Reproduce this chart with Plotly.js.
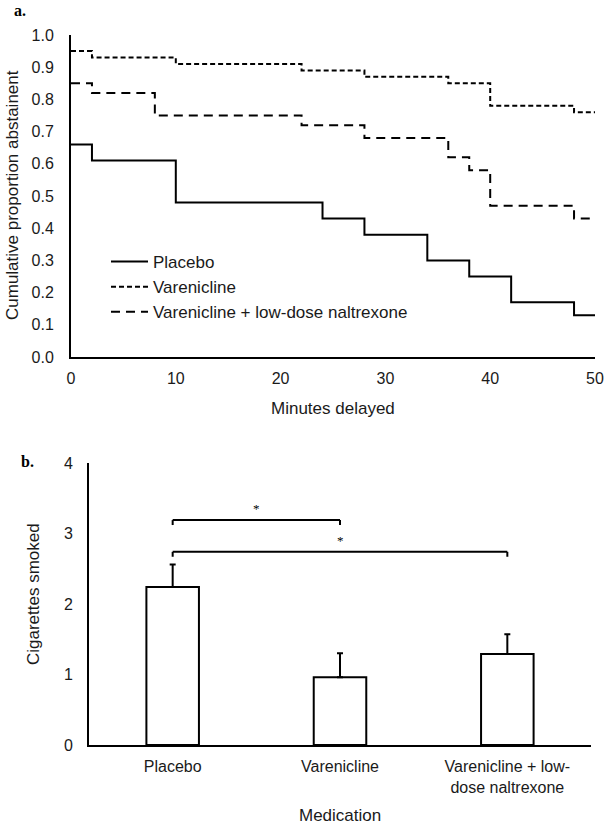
<!DOCTYPE html>
<html>
<head>
<meta charset="utf-8">
<script src="https://cdn.plot.ly/plotly-3.0.1.min.js"></script>
<style>
  body { margin: 0; background: #fff; }
  #chart { width: 609px; height: 826px; }
</style>
</head>
<body>
<div id="chart"></div>
<script>
// panel a - cumulative proportion abstinent by minutes delayed
const minutesPlacebo = [0, 2, 10, 24, 28, 34, 38, 42, 48, 50];
const abstPlacebo = [0.66, 0.61, 0.48, 0.43, 0.38, 0.30, 0.25, 0.17, 0.13, 0.13];
const minutesVar = [0, 2, 10, 22, 28, 36, 40, 48, 50];
const abstVar = [0.95, 0.93, 0.91, 0.89, 0.87, 0.85, 0.78, 0.76, 0.76];
const minutesCombo = [0, 2, 8, 22, 28, 36, 38, 40, 48, 50];
const abstCombo = [0.85, 0.82, 0.75, 0.72, 0.68, 0.62, 0.58, 0.47, 0.43, 0.43];

// panel b - cigarettes smoked by medication
const medications = ["Placebo", "Varenicline", "Varenicline + low-<br>dose naltrexone"];
const cigsMean = [2.24, 0.96, 1.29];
const cigsSE = [0.32, 0.34, 0.28];

// significance brackets: [from category, to category, height]
const brackets = [[0, 1, 3.19], [0, 2, 2.74]];

const W = 609, H = 826;
const px = v => v / W;          // pixel -> paper x
const py = v => 1 - v / H;      // pixel -> paper y

const textColor = "#1a1a1a";
const tickFont = { family: "Arial, Liberation Sans, sans-serif", size: 16, color: textColor };
const titleFont = { family: "Arial, Liberation Sans, sans-serif", size: 17, color: textColor };
const serifBold = { family: "Liberation Serif, Times New Roman, serif", size: 16, color: "#000" };

function stepTrace(x, y, name, dash) {
    return {
        x: x, y: y, name: name,
        type: "scatter", mode: "lines",
        line: { shape: "hv", color: "#000", width: 2, dash: dash },
        xaxis: "x", yaxis: "y"
    };
}

const data = [
    stepTrace(minutesPlacebo, abstPlacebo, "Placebo", "solid"),
    stepTrace(minutesVar, abstVar, "Varenicline", "5px,3px"),
    stepTrace(minutesCombo, abstCombo, "Varenicline + low-dose naltrexone", "9px,6px"),
    {
        x: medications, y: cigsMean,
        type: "bar", xaxis: "x2", yaxis: "y2", showlegend: false,
        marker: { color: "#fff", line: { color: "#000", width: 2 } },
        error_y: {
            type: "data", symmetric: false,
            array: cigsSE, arrayminus: cigsSE.map(() => 0),
            color: "#000", thickness: 2, width: 3
        }
    }
];

// brackets drawn as three line pieces each
const drop = 0.07;
const shapes = [];
brackets.forEach(([a, b, h]) => {
    const ln = { type: "line", xref: "x2", yref: "y2", line: { color: "#000", width: 2 } };
    shapes.push(Object.assign({}, ln, { x0: a, x1: b, y0: h, y1: h }));
    shapes.push(Object.assign({}, ln, { x0: a, x1: a, y0: h, y1: h - drop }));
    shapes.push(Object.assign({}, ln, { x0: b, x1: b, y0: h, y1: h - drop }));
});

function label(text, x, y, font, angle) {
    return {
        text: text, xref: "paper", yref: "paper", x: px(x), y: py(y),
        xanchor: "center", yanchor: "middle", textangle: angle || 0,
        showarrow: false, font: font
    };
}

const annotations = [
    label("<b>a.</b>", 20, 10, serifBold),
    label("<b>b.</b>", 27, 462, serifBold),
    label("Cumulative proportion abstainent", 12, 195, titleFont, -90),
    label("Minutes delayed", 333, 409, titleFont),
    label("Cigarettes smoked", 33, 594, titleFont, -90),
    label("Medication", 340, 815, titleFont)
];
brackets.forEach(([a, b, h]) => {
    annotations.push({
        text: "*", xref: "x2", yref: "y2", x: (a + b) / 2, y: h,
        yanchor: "bottom", yshift: 2, showarrow: false,
        font: { family: "Liberation Serif, Times New Roman, serif", size: 13, color: "#000" }
    });
});

const axisBase = {
    showline: true, linecolor: "#000", linewidth: 2,
    showgrid: false, zeroline: false, ticks: "",
    tickfont: tickFont, fixedrange: true
};

const layout = {
    width: W, height: H,
    margin: { l: 0, r: 0, t: 0, b: 0 },
    paper_bgcolor: "#fff", plot_bgcolor: "#fff",
    showlegend: true,
    legend: {
        x: px(106), y: py(244), xanchor: "left", yanchor: "top",
        bgcolor: "rgba(0,0,0,0)", itemwidth: 37,
        font: { family: "Arial, Liberation Sans, sans-serif", size: 17, color: textColor }
    },
    xaxis: Object.assign({}, axisBase, {
        domain: [px(71), px(595)], range: [0, 50], dtick: 10,
        anchor: "y", ticklabelstandoff: 6
    }),
    yaxis: Object.assign({}, axisBase, {
        domain: [py(357), py(35)], range: [0, 1], dtick: 0.1, tickformat: ".1f",
        anchor: "x", ticklabelstandoff: 12
    }),
    xaxis2: Object.assign({}, axisBase, {
        domain: [px(89), px(591)], type: "category",
        anchor: "y2", ticklabelstandoff: 6
    }),
    yaxis2: Object.assign({}, axisBase, {
        domain: [py(745), py(463)], range: [0, 4], dtick: 1,
        anchor: "x2", ticklabelstandoff: 11
    }),
    bargap: 0.686,
    shapes: shapes,
    annotations: annotations
};

Plotly.newPlot("chart", data, layout, { displayModeBar: false, staticPlot: true });
</script>
</body>
</html>
